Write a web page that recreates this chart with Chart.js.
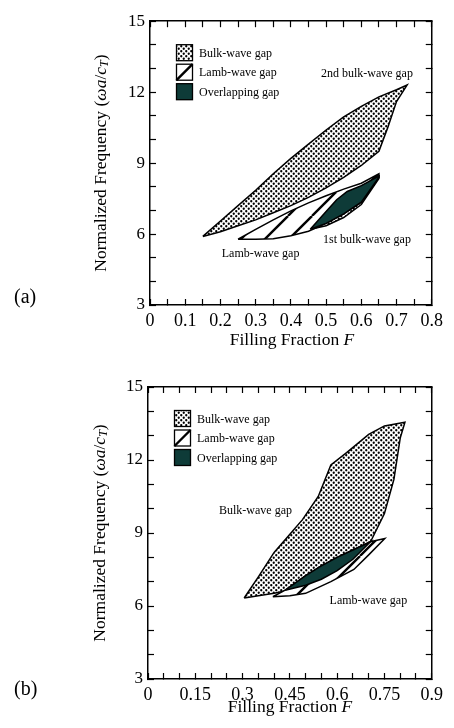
<!DOCTYPE html>
<html>
<head>
<meta charset="utf-8">
<script src="https://cdn.jsdelivr.net/npm/chart.js@4.4.0/dist/chart.umd.min.js"></script>
<style>
  html, body { margin: 0; padding: 0; background: #fff; }
  canvas { display: block; }
</style>
</head>
<body>
<canvas id="chartA" width="454" height="364"></canvas>
<canvas id="chartB" width="454" height="364"></canvas>
<script>
// ---- panel (a) outlines: filling fraction F / normalized frequency ----
const bulk2A_F = [0.15, 0.2, 0.25, 0.3, 0.35, 0.4, 0.45, 0.5, 0.55, 0.6, 0.65, 0.7, 0.73, 0.7, 0.675, 0.65, 0.6, 0.55, 0.5, 0.45, 0.4, 0.35, 0.3, 0.25, 0.2]
const bulk2A_W = [5.9, 6.55, 7.2, 7.85, 8.55, 9.2, 9.8, 10.4, 10.95, 11.4, 11.8, 12.1, 12.3, 11.6, 10.5, 9.5, 8.9, 8.4, 7.95, 7.55, 7.2, 6.9, 6.6, 6.35, 6.1]

const bulk1A_F = [0.455, 0.5, 0.53, 0.56, 0.6, 0.65, 0.65, 0.6, 0.55, 0.5]
const bulk1A_W = [6.2, 6.95, 7.45, 7.8, 8.05, 8.45, 8.35, 7.25, 6.7, 6.35]

const lambA_F = [0.25, 0.3, 0.35, 0.4, 0.45, 0.5, 0.55, 0.6, 0.65, 0.65, 0.6, 0.55, 0.5, 0.45, 0.4, 0.35, 0.3]
const lambA_W = [5.78, 6.2, 6.6, 6.98, 7.32, 7.62, 7.9, 8.15, 8.55, 8.4, 7.35, 6.85, 6.45, 6.12, 5.93, 5.8, 5.78]

const overlapA_F = [0.455, 0.5, 0.53, 0.56, 0.6, 0.65, 0.65, 0.6, 0.55, 0.5]
const overlapA_W = [6.2, 6.95, 7.45, 7.8, 8.05, 8.45, 8.4, 7.35, 6.85, 6.45]

// ---- panel (b) outlines ----
const bulkB_F = [0.305, 0.35, 0.4, 0.45, 0.49, 0.54, 0.58, 0.63, 0.7, 0.75, 0.815, 0.8, 0.78, 0.75, 0.705, 0.65, 0.6, 0.55, 0.5, 0.45, 0.4, 0.35]
const bulkB_W = [6.33, 7.2, 8.2, 8.95, 9.55, 10.5, 11.8, 12.3, 13.05, 13.4, 13.55, 12.9, 11.2, 9.8, 8.62, 7.92, 7.45, 7.1, 6.85, 6.66, 6.52, 6.42]

const lambB_F = [0.396, 0.445, 0.5, 0.55, 0.6, 0.65, 0.705, 0.751, 0.7, 0.653, 0.58, 0.5, 0.45]
const lambB_W = [6.38, 6.72, 7.25, 7.65, 8.0, 8.3, 8.64, 8.77, 8.1, 7.5, 7.0, 6.52, 6.42]

const overlapB_F = [0.435, 0.5, 0.55, 0.6, 0.65, 0.705, 0.65, 0.6, 0.55, 0.5]
const overlapB_W = [6.65, 7.25, 7.65, 8.0, 8.3, 8.63, 7.92, 7.45, 7.1, 6.85]

// ---- axes ----
const xMaxA = 0.8
const xMaxB = 0.9
const xLabelStepA = 0.1
const xLabelStepB = 0.15
const yMin = 3
const yMax = 15
const yLabelStep = 3

const SERIF = "'Liberation Serif', 'Times New Roman', serif"
const DARK = "#0e3b38"

// closed outline from two arrays
function outline(fs, ws) {
  const pts = fs.map((f, i) => ({ x: f, y: ws[i] }))
  pts.push({ x: fs[0], y: ws[0] })
  return pts
}

function makeDots() {
  const s = 5
  const c = document.createElement("canvas")
  c.width = s
  c.height = s
  const g = c.getContext("2d")
  g.fillStyle = "#fff"
  g.fillRect(0, 0, s, s)
  g.fillStyle = "#000"
  g.beginPath()
  g.arc(1.25, 1.25, 1.15, 0, Math.PI * 2)
  g.arc(3.75, 3.75, 1.15, 0, Math.PI * 2)
  g.fill()
  return g.createPattern(c, "repeat")
}

function makeHatch() {
  const p = 24
  const c = document.createElement("canvas")
  c.width = p
  c.height = p
  const g = c.getContext("2d")
  g.fillStyle = "#fff"
  g.fillRect(0, 0, p, p)
  g.strokeStyle = "#000"
  g.lineWidth = 2.4
  for (const k of [-p, 0, p]) {
    g.beginPath()
    g.moveTo(k, p)
    g.lineTo(k + p, 0)
    g.stroke()
  }
  return g.createPattern(c, "repeat")
}

const dots = makeDots()
const hatch = makeHatch()

function poly(fs, ws, fill) {
  return {
    data: outline(fs, ws),
    borderColor: "#000",
    borderWidth: 1.5,
    backgroundColor: fill,
    fill: "shape",
    pointRadius: 0,
    tension: 0,
  }
}

function isMultiple(v, step) {
  const r = v / step
  return Math.abs(r - Math.round(r)) < 1e-6
}

function fmt(v) {
  return String(Math.round(v * 100) / 100)
}

function buildScales(xMax, xLabelStep, xHeight, yWidth) {
  const grid = { drawOnChartArea: false, drawTicks: true, tickLength: -6, tickColor: "#000", tickWidth: 1.2 }
  const border = { display: true, color: "#000", width: 1.5 }
  return {
    x: {
      type: "linear", position: "bottom", min: 0, max: xMax,
      afterFit: (s) => { s.height = xHeight },
      grid, border,
      ticks: {
        stepSize: 0.05, maxTicksLimit: 100, autoSkip: false, maxRotation: 0, padding: 11,
        color: "#000", font: { family: SERIF, size: 18 },
        callback: (v) => (isMultiple(v, xLabelStep) ? fmt(v) : ""),
      },
    },
    x2: {
      type: "linear", position: "top", min: 0, max: xMax,
      afterFit: (s) => { s.height = 0 },
      grid, border,
      ticks: { display: false, stepSize: 0.05, maxTicksLimit: 100 },
    },
    y: {
      type: "linear", position: "left", min: yMin, max: yMax,
      afterFit: (s) => { s.width = yWidth },
      grid, border,
      ticks: {
        stepSize: 1, maxTicksLimit: 100, autoSkip: false, padding: 11,
        color: "#000", font: { family: SERIF, size: 17 },
        callback: (v) => (isMultiple(v, yLabelStep) ? String(v) : ""),
      },
    },
    y2: {
      type: "linear", position: "right", min: yMin, max: yMax,
      afterFit: (s) => { s.width = 0 },
      grid, border,
      ticks: { display: false, stepSize: 1, maxTicksLimit: 100 },
    },
  }
}

function drawRuns(ctx, runs, x, y) {
  // runs: [text, italic, sub]
  let cx = x
  for (const [t, it, sub] of runs) {
    ctx.font = `${it ? "italic " : ""}${sub ? 12 : 17.5}px ${SERIF}`
    ctx.fillText(t, cx, y + (sub ? 4 : 0))
    cx += ctx.measureText(t).width
  }
}

function runsWidth(ctx, runs) {
  let w = 0
  for (const [t, it, sub] of runs) {
    ctx.font = `${it ? "italic " : ""}${sub ? 12 : 17.5}px ${SERIF}`
    w += ctx.measureText(t).width
  }
  return w
}

const yTitleRuns = [["Normalized Frequency (", false, false], ["ωa", true, false], ["/", false, false], ["c", true, false], ["T", true, true], [")", false, false]]
const xTitleRuns = [["Filling Fraction ", false, false], ["F", true, false]]

const decor = {
  id: "decor",
  afterDraw(chart, args, o) {
    const ctx = chart.ctx
    const a = chart.chartArea
    const sx = chart.scales.x
    const sy = chart.scales.y
    ctx.save()
    ctx.fillStyle = "#000"
    ctx.textBaseline = "middle"
    ctx.textAlign = "left"

    // y title
    ctx.save()
    ctx.translate(o.yTitleX, (a.top + a.bottom) / 2)
    ctx.rotate(-Math.PI / 2)
    drawRuns(ctx, yTitleRuns, -runsWidth(ctx, yTitleRuns) / 2, 0)
    ctx.restore()

    // x title
    drawRuns(ctx, xTitleRuns, o.xTitleX - runsWidth(ctx, xTitleRuns) / 2, o.xTitleY)

    // panel label
    ctx.font = `20px ${SERIF}`
    ctx.fillText(o.panel, o.panelX, o.panelY)

    // notes in data coordinates
    ctx.font = `12px ${SERIF}`
    ctx.textAlign = "center"
    for (const n of o.notes) {
      ctx.fillText(n.text, sx.getPixelForValue(n.f), sy.getPixelForValue(n.w))
    }

    // legend
    ctx.textAlign = "left"
    const lx = a.left + 26.5
    let ly = a.top + 23.5
    const size = 16
    const rows = [["Bulk-wave gap", "dots"], ["Lamb-wave gap", "hatch"], ["Overlapping gap", "dark"]]
    for (const [label, kind] of rows) {
      if (kind === "dots") ctx.fillStyle = dots
      else if (kind === "dark") ctx.fillStyle = DARK
      else ctx.fillStyle = "#fff"
      ctx.fillRect(lx, ly, size, size)
      ctx.strokeStyle = "#000"
      ctx.lineWidth = 1.3
      if (kind === "hatch") {
        ctx.lineWidth = 2.4
        ctx.beginPath()
        ctx.moveTo(lx, ly + size)
        ctx.lineTo(lx + size, ly)
        ctx.stroke()
        ctx.lineWidth = 1.3
      }
      ctx.strokeRect(lx, ly, size, size)
      ctx.fillStyle = "#000"
      ctx.font = `12px ${SERIF}`
      ctx.fillText(label, lx + 22.5, ly + size / 2 + 1)
      ly += 19.5
    }
    ctx.restore()
  },
}

function makeChart(id, datasets, scales, padding, decorOpts) {
  return new Chart(document.getElementById(id), {
    type: "line",
    data: { datasets },
    options: {
      responsive: false,
      animation: false,
      events: [],
      layout: { padding },
      scales,
      plugins: {
        legend: { display: false },
        tooltip: { enabled: false },
        decor: decorOpts,
      },
    },
    plugins: [decor],
  })
}

// first dataset is drawn on top
makeChart(
  "chartA",
  [
    poly(overlapA_F, overlapA_W, DARK),
    poly(lambA_F, lambA_W, hatch),
    poly(bulk1A_F, bulk1A_W, dots),
    poly(bulk2A_F, bulk2A_W, dots),
  ],
  buildScales(xMaxA, xLabelStepA, 59, 150),
  { left: 0, right: 12, top: 13, bottom: 0 },
  {
    panel: "(a)", panelX: 14, panelY: 298,
    yTitleX: 101, xTitleX: 292, xTitleY: 340,
    notes: [
      { text: "2nd bulk-wave gap", f: 0.616, w: 12.78 },
      { text: "1st bulk-wave gap", f: 0.616, w: 5.75 },
      { text: "Lamb-wave gap", f: 0.314, w: 5.18 },
    ],
  }
)

makeChart(
  "chartB",
  [
    poly(overlapB_F, overlapB_W, DARK),
    poly(lambB_F, lambB_W, hatch),
    poly(bulkB_F, bulkB_W, dots),
  ],
  buildScales(xMaxB, xLabelStepB, 49, 148),
  { left: 0, right: 14, top: 23, bottom: 0 },
  {
    panel: "(b)", panelX: 14, panelY: 326,
    yTitleX: 100, xTitleX: 290, xTitleY: 343,
    notes: [
      { text: "Bulk-wave gap", f: 0.341, w: 9.92 },
      { text: "Lamb-wave gap", f: 0.699, w: 6.22 },
    ],
  }
)
</script>
</body>
</html>
